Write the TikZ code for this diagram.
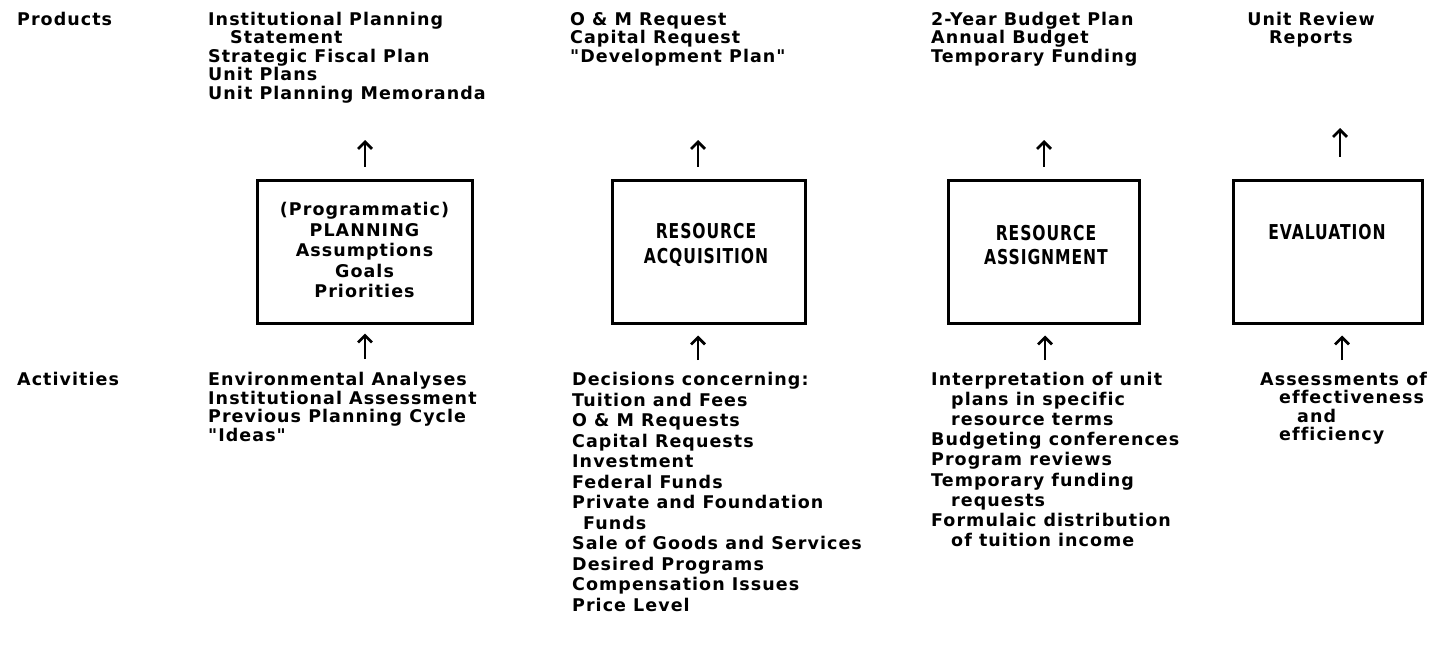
\documentclass[tikz,border=0pt]{standalone}
\usepackage{fontspec}
\usepackage{graphicx}
\newfontfamily\tw{DejaVu Sans}[LetterSpace=6,Ligatures=NoCommon]
\usetikzlibrary{arrows.meta}
\newcommand{\cnd}[1]{\scalebox{0.76}[1]{#1}}
\begin{document}
\begin{tikzpicture}[x=1pt,y=-1pt,
  every node/.style={inner sep=0pt},
  txt/.style={anchor=north west, align=left, font=\tw\bfseries\fontsize{17.5}{#1}\selectfont},
  txt/.default={18.5},
  ctxt/.style={align=center, font=\tw\bfseries\fontsize{17.5}{#1}\selectfont},
  ctxt/.default={18.5},
  btxt/.style={align=center, font=\tw\bfseries\fontsize{20.5}{24.5}\selectfont},
  box/.style={draw, line width=3pt, minimum height=143pt},
  arr/.style={line width=2.7pt, -{Straight Barb[length=7pt,width=14pt]}}]
\useasboundingbox (0,0) rectangle (1430,651);

% row labels
\node[txt] (prodlbl) at (17,12) {Products};
\node[txt] (actlbl) at (17,372) {Activities};

% products
\node[txt] (p1) at (208,12) {Institutional Planning\\\hspace*{22pt}Statement\\Strategic Fiscal Plan\\Unit Plans\\Unit Planning Memoranda};
\node[txt] (p2) at (570,12) {O \& M Request\\Capital Request\\"Development Plan"};
\node[txt] (p3) at (931,12) {2-Year Budget Plan\\Annual Budget\\Temporary Funding};
\node[ctxt, anchor=north] (p4) at (1311,12) {Unit Review\\Reports};

% boxes
\node[box, minimum width=215pt] (b1) at (364.5,251.5) {};
\node[box, minimum width=193pt] (b2) at (708.5,251.5) {};
\node[box, minimum width=191pt] (b3) at (1043.5,251.5) {};
\node[box, minimum width=189pt] (b4) at (1327.5,251.5) {};

\node[ctxt=20.5] (t1) at (364.5,250) {(Programmatic)\\PLANNING\\Assumptions\\Goals\\Priorities};
\node[btxt] (t2) at (706,245) {\cnd{RESOURCE}\\\cnd{ACQUISITION}};
\node[btxt] (t3) at (1046,245) {\cnd{RESOURCE}\\\cnd{ASSIGNMENT}};
\node[btxt] (t4) at (1327,232) {\cnd{EVALUATION}};

% activities
\node[txt=18.7] (a1) at (208,372) {Environmental Analyses\\Institutional Assessment\\Previous Planning Cycle\\"Ideas"};
\node[txt=20.5] (a2) at (572,372) {Decisions concerning:\\Tuition and Fees\\O \& M Requests\\Capital Requests\\Investment\\Federal Funds\\Private and Foundation\\\hspace*{11pt}Funds\\Sale of Goods and Services\\Desired Programs\\Compensation Issues\\Price Level};
\node[txt=20.1] (a3) at (931,372) {Interpretation of unit\\\hspace*{20pt}plans in specific\\\hspace*{20pt}resource terms\\Budgeting conferences\\Program reviews\\Temporary funding\\\hspace*{20pt}requests\\Formulaic distribution\\\hspace*{20pt}of tuition income};
\node[txt=18.3] (a4) at (1260,372) {Assessments of\\\hspace*{19pt}effectiveness\\\hspace*{37pt}and\\\hspace*{19pt}efficiency};

% arrow end coordinates
\coordinate (v1) at (365,140);
\coordinate (v2) at (698,140);
\coordinate (v3) at (1044,140);
\coordinate (v4) at (1340,128);
\coordinate (u1) at (365,359);
\coordinate (u2) at (698,360);
\coordinate (u3) at (1045,360);
\coordinate (u4) at (1342,360);

% box -> products
\draw[arr, shorten <=12pt] (v1 |- b1.north) -- (v1);
\draw[arr, shorten <=12pt] (v2 |- b2.north) -- (v2);
\draw[arr, shorten <=12pt] (v3 |- b3.north) -- (v3);
\draw[arr, shorten <=22pt] (v4 |- b4.north) -- (v4);

% activities -> box
\draw[arr, shorten >=9pt] (u1) -- (u1 |- b1.south);
\draw[arr, shorten >=11pt] (u2) -- (u2 |- b2.south);
\draw[arr, shorten >=11pt] (u3) -- (u3 |- b3.south);
\draw[arr, shorten >=11pt] (u4) -- (u4 |- b4.south);
\end{tikzpicture}
\end{document}
